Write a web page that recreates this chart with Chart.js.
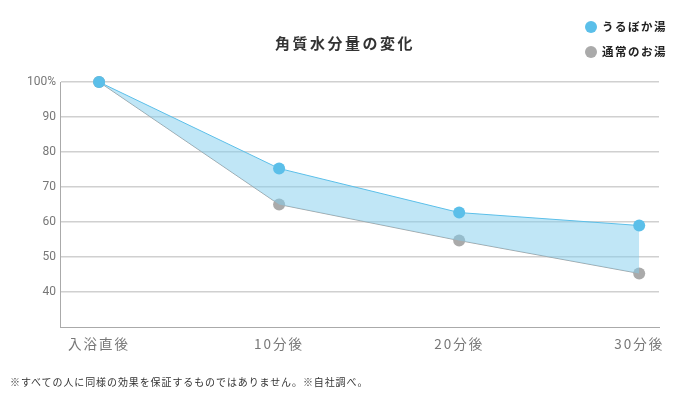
<!DOCTYPE html>
<html>
<head>
<meta charset="utf-8">
<script src="https://cdn.jsdelivr.net/npm/chart.js@4"></script>
<style>
  html, body { margin: 0; padding: 0; background: #fff; }
  body { width: 690px; height: 399px; position: relative; overflow: hidden;
         font-family: "Noto Sans CJK JP", "Noto Sans", sans-serif; }
  #wrap { position: absolute; left: 0; top: 0; width: 690px; height: 399px; }
  .title { position: absolute; left: 0; width: 690px; top: 33px; text-align: center;
           font-size: 15px; font-weight: bold; color: #333; letter-spacing: 2.5px; line-height: 20px; }
  .legend { position: absolute; left: 585px; font-size: 11.5px; font-weight: bold; color: #222; line-height: 14px; letter-spacing: 1.5px; }
  .legend span.dot { display: inline-block; width: 12px; height: 12px; border-radius: 50%; vertical-align: -2px; margin-right: 5px; }
  .note { position: absolute; left: 10px; top: 375px; font-size: 10px; color: #333; line-height: 14px; letter-spacing: 0.9px; }
</style>
</head>
<body>
<div id="wrap"><canvas id="chart" width="690" height="399"></canvas></div>
<div class="title">角質水分量の変化</div>
<div class="legend" style="top:19px"><span class="dot" style="background:#5bbfe9"></span>うるぼか湯</div>
<div class="legend" style="top:44px"><span class="dot" style="background:#aaaaaa"></span>通常のお湯</div>
<div class="note">※すべての人に同様の効果を保証するものではありません。※自社調べ。</div>
<script>
var minutes = [0, 10, 20, 30];
var xLabels = ['入浴直後', '10分後', '20分後', '30分後'];
var urubokaValues = [100, 75.3, 62.7, 59];
var normalValues = [100, 65, 54.7, 45.3];
var seriesNames = ['うるぼか湯', '通常のお湯'];

function toPoints(vals) {
  return minutes.map(function(m, i) { return { x: m, y: vals[i] }; });
}

// spaced-out x tick labels like the original artwork
var spacedLabels = {
  id: 'spacedLabels',
  afterLayout: function(chart) {
    var sx = chart.scales.x;
    if (sx._spaced) return;
    var orig = sx.drawLabels.bind(sx);
    sx.drawLabels = function(area) {
      var ctx = chart.ctx;
      ctx.save();
      ctx.letterSpacing = '2px';
      orig(area);
      ctx.restore();
    };
    sx._spaced = true;
  }
};

var chart = new Chart(document.getElementById('chart'), {
  type: 'line',
  data: {
    datasets: [
      {
        label: seriesNames[0],
        data: toPoints(urubokaValues),
        borderColor: '#5bbfe9',
        borderWidth: 1,
        backgroundColor: 'rgba(130,205,238,0.5)',
        pointBackgroundColor: '#5bbfe9',
        pointBorderWidth: 0,
        pointRadius: 6,
        fill: '+1',
        clip: false
      },
      {
        label: seriesNames[1],
        data: toPoints(normalValues),
        borderColor: '#a5a5a5',
        borderWidth: 1,
        pointBackgroundColor: '#aaaaaa',
        pointBorderWidth: 0,
        pointRadius: 6,
        fill: false,
        clip: false
      }
    ]
  },
  options: {
    responsive: false,
    animation: false,
    layout: { padding: { left: 0, right: 31, top: 82, bottom: 0 } },
    plugins: { legend: { display: false }, title: { display: false }, tooltip: { enabled: false } },
    scales: {
      x: {
        type: 'linear',
        min: -2.17,
        max: 31.1,
        afterBuildTicks: function(scale) { scale.ticks = minutes.map(function(v) { return { value: v }; }); },
        afterFit: function(scale) { scale.height = 72; },
        grid: { display: false, drawTicks: false },
        border: { color: '#aaaaaa', width: 1 },
        ticks: {
          padding: 9,
          color: '#777',
          font: { size: 13.5, family: '"Noto Sans CJK JP", sans-serif' },
          callback: function(v) { return xLabels[minutes.indexOf(v)]; }
        }
      },
      y: {
        min: 30,
        max: 100,
        afterFit: function(scale) { scale.width = 60; },
        grid: {
          drawTicks: false,
          lineWidth: 1.5,
          color: function(ctx) { return ctx.tick && ctx.tick.value === 30 ? 'rgba(0,0,0,0)' : '#d0d0d0'; }
        },
        border: { color: '#aaaaaa', width: 1 },
        ticks: {
          stepSize: 10,
          padding: 4,
          color: '#777',
          font: { size: 12, family: 'Roboto, sans-serif' },
          callback: function(v) { return v === 30 ? '' : (v === 100 ? '100%' : v); }
        }
      }
    }
  },
  plugins: [spacedLabels]
});
</script>
</body>
</html>
